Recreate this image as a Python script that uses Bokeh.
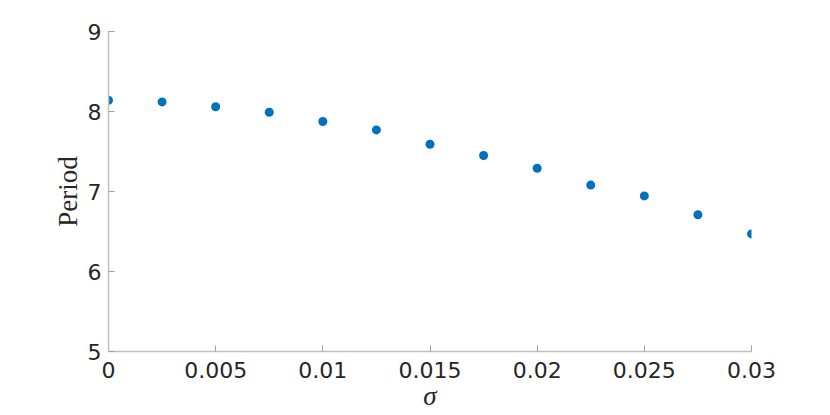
from bokeh.plotting import figure
from bokeh.models import Range1d, FixedTicker, ColumnDataSource
from bokeh.embed import file_html
from bokeh.resources import INLINE

sigma = [0.0, 0.0025, 0.005, 0.0075, 0.01, 0.0125, 0.015, 0.0175, 0.02, 0.0225, 0.025, 0.0275, 0.03]
period = [8.14, 8.12, 8.06, 7.99, 7.875, 7.77, 7.59, 7.45, 7.29, 7.08, 6.945, 6.71, 6.47]

x_ticks = [0.0, 0.005, 0.01, 0.015, 0.02, 0.025, 0.03]
x_tick_labels = ["0", "0.005", "0.01", "0.015", "0.02", "0.025", "0.03"]
y_ticks = [5, 6, 7, 8, 9]
y_tick_labels = ["5", "6", "7", "8", "9"]

p = figure(width=814, height=415, output_backend="svg", toolbar_location=None,
           x_range=Range1d(0, 0.03), y_range=Range1d(5, 9),
           min_border_left=108, min_border_right=63, min_border_top=31, min_border_bottom=64)
p.outline_line_color = None
p.xgrid.visible = False
p.ygrid.visible = False

src = ColumnDataSource(dict(x=sigma, y=period))
p.scatter("x", "y", source=src, size=9, color="#0072BD", line_color=None)

p.xaxis.ticker = FixedTicker(ticks=x_ticks)
p.yaxis.ticker = FixedTicker(ticks=y_ticks)
p.xaxis.major_label_overrides = {t: l for t, l in zip(x_ticks, x_tick_labels)}
p.yaxis.major_label_overrides = {t: l for t, l in zip(y_ticks, y_tick_labels)}

for ax in (p.xaxis, p.yaxis):
    ax.axis_line_color = "#c0c0c0"
    ax.axis_line_width = 1.5
    ax.major_tick_line_color = "#a0a0a0"
    ax.major_tick_in = 6
    ax.major_tick_out = 0
    ax.minor_tick_line_color = None
    ax.major_label_text_font = "DejaVu Sans"
    ax.major_label_text_font_size = "22px"
    ax.major_label_text_color = "#262626"
    ax.axis_label_text_color = "#262626"
    ax.axis_label_text_font = "Liberation Serif"
    ax.axis_label_text_font_size = "27px"
    ax.axis_label_text_font_style = "normal"

p.xaxis.axis_label = "σ"
p.xaxis.axis_label_text_font_style = "italic"
p.xaxis.major_label_standoff = 10
p.xaxis.axis_label_standoff = 0
p.yaxis.axis_label = "Period"
p.yaxis.major_label_standoff = 7
p.yaxis.axis_label_standoff = 2

open("out.html", "w").write(file_html(p, INLINE))
